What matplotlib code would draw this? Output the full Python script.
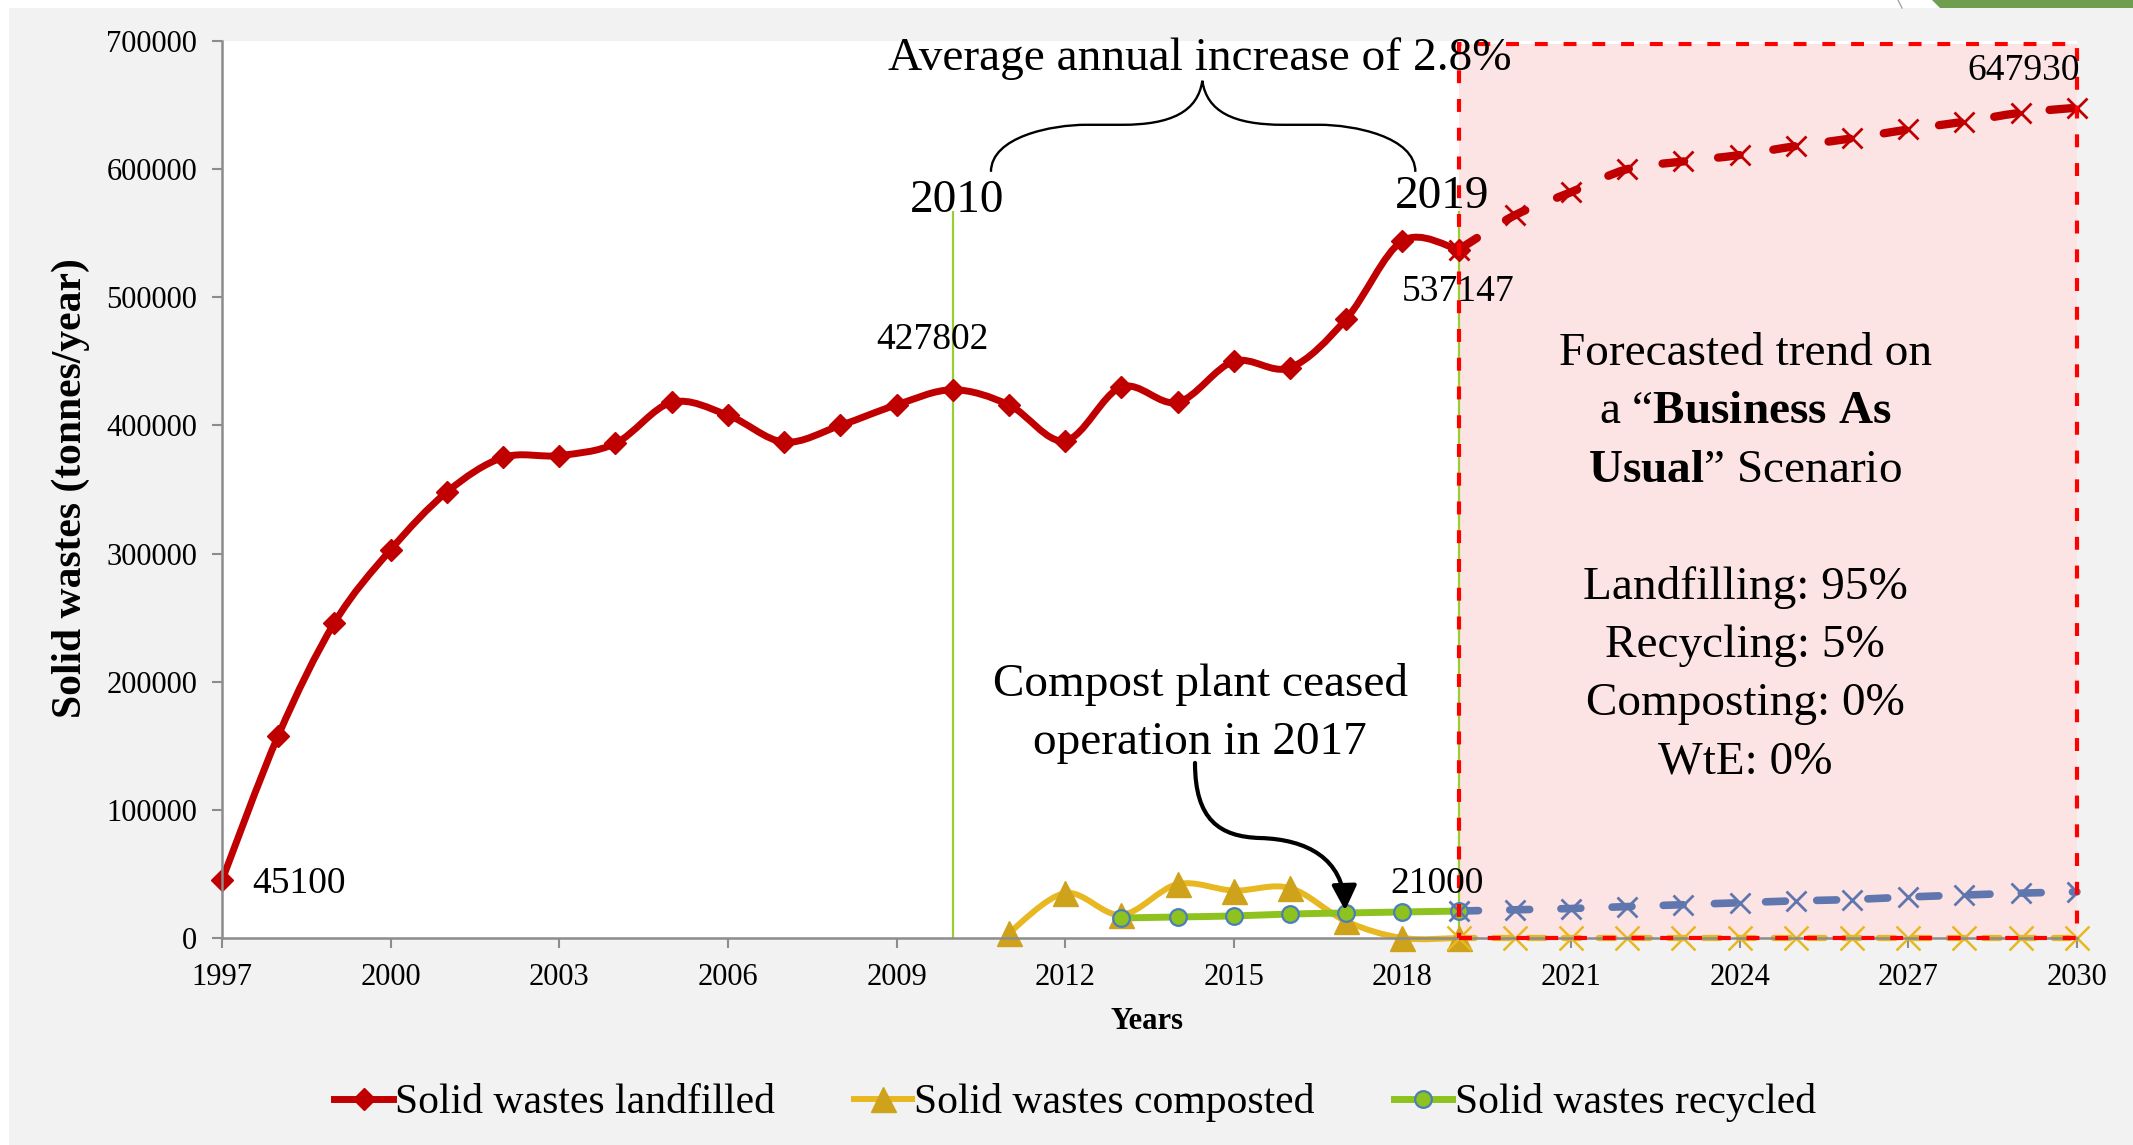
import numpy as np
import matplotlib.pyplot as plt
from matplotlib.path import Path
from matplotlib.patches import PathPatch, Rectangle, Polygon, FancyArrowPatch
from matplotlib.lines import Line2D
from matplotlib.ticker import FuncFormatter

plt.rcParams['font.family'] = ['Liberation Serif', 'DejaVu Serif']
plt.rcParams['mathtext.fontset'] = 'custom'
plt.rcParams['mathtext.rm'] = 'Liberation Serif'
plt.rcParams['mathtext.bf'] = 'Liberation Serif:bold'

# DATOS (tonnes/year)
years_hist = list(range(1997, 2020))
landfilled = [45100, 158000, 246000, 303000, 348000, 375000, 376500, 386000,
              418000, 408000, 387000, 400000, 416000, 427802, 416000, 388000,
              430000, 418000, 450000, 445000, 483000, 544000, 537147]

years_comp = list(range(2011, 2020))
composted = [4000, 35000, 18000, 42000, 37000, 39000, 13000, 0, 0]

years_rec = list(range(2013, 2020))
recycled = [15600, 16400, 17200, 18700, 19500, 20300, 21000]

# pronostico "Business As Usual"
years_fc = list(range(2019, 2031))
landfilled_fc = [537147, 564000, 582000, 600000, 606000, 611000, 618000,
                 624000, 631000, 637000, 644000, 647930]
recycled_fc = [21000, 22000, 23000, 24500, 26000, 27500, 29000, 30000,
               32000, 33500, 35000, 36000]
composted_fc = [0, 0, 0, 0, 0, 0, 0, 0, 0, 0, 0, 0]

marker_years = [2010, 2019]
marker_top = 567000
box_top = 698000

legend_labels = ['Solid wastes landfilled', 'Solid wastes composted',
                 'Solid wastes recycled']
scenario_lines = ['Forecasted trend on', 'a \u201c$\\mathbf{Business}$$\\;$$\\mathbf{As}$',
                  '$\\mathbf{Usual}$\u201d Scenario', '', 'Landfilling: 95%',
                  'Recycling: 5%', 'Composting: 0%', 'WtE: 0%']

# colores
red = '#C00000'
yellow = '#E8B822'
gold = '#CFA21B'
green = '#8DC21F'
blue_edge = '#4A7EBB'
blue_fc = '#5F76AE'
pink = '#FDE4E4'


def smooth_path(x, y):
    # curva suavizada tipo Excel (Catmull-Rom -> Bezier)
    pts = np.column_stack([x, y]).astype(float)
    n = len(pts)
    verts = [pts[0]]
    codes = [Path.MOVETO]
    for i in range(n - 1):
        p0 = pts[i - 1] if i > 0 else pts[i]
        p1 = pts[i]
        p2 = pts[i + 1]
        p3 = pts[i + 2] if i + 2 < n else pts[i + 1]
        verts += [p1 + (p2 - p0) / 6, p2 - (p3 - p1) / 6, p2]
        codes += [Path.CURVE4] * 3
    return Path(verts, codes)


def draw_series(ax, x, y, color, lw, ls='-', z=3):
    patch = PathPatch(smooth_path(x, y), fill=False, edgecolor=color, lw=lw,
                      linestyle=ls, capstyle='round', joinstyle='round', zorder=z,
                      clip_on=False)
    ax.add_patch(patch)


# FIGURA
fig = plt.figure(figsize=(21.33, 11.45), dpi=100)
fig.patch.set_facecolor('white')
fig.add_artist(Rectangle((9 / 2133, 0), 1, 1 - 8 / 1145, transform=fig.transFigure,
                         facecolor='#F2F2F2', edgecolor='none', zorder=-10))
fig.add_artist(Polygon([(1932 / 2133, 1), (1, 1), (1, 1 - 8 / 1145), (1940 / 2133, 1 - 8 / 1145)],
                       closed=True, transform=fig.transFigure,
                       facecolor='#6F9E50', edgecolor='none'))
fig.add_artist(Line2D([1898 / 2133, 1902 / 2133], [1, 1 - 8 / 1145],
                      transform=fig.transFigure, color='#A6A6A6', lw=1))

ax = fig.add_axes([0.1041, 0.1808, 0.8696, 0.7834])
ax.set_facecolor('white')
ax.set_xlim(1997, 2030)
ax.set_ylim(0, 700000)

# zona de pronostico
ax.add_patch(Rectangle((years_fc[0], 0), years_fc[-1] - years_fc[0], box_top,
                       facecolor=pink, edgecolor='none', zorder=1))
ax.add_patch(Rectangle((years_fc[0], 0), years_fc[-1] - years_fc[0], box_top,
                       fill=False, edgecolor='#FF0000', lw=3,
                       linestyle=(0, (3.1, 3.8)), zorder=6, clip_on=False))

ax.vlines(marker_years, 0, marker_top, color='#9ACD32', lw=1.6, zorder=2)

# historico
draw_series(ax, years_hist, landfilled, red, 5)
ax.plot(years_hist, landfilled, ls='none', marker='D', ms=11.5, color=red,
        zorder=4, clip_on=False)

draw_series(ax, years_comp, composted, yellow, 4.3)
ax.plot(years_comp, composted, ls='none', marker='^', ms=18, color=gold,
        zorder=4, clip_on=False)

draw_series(ax, years_rec, recycled, green, 5)
ax.plot(years_rec, recycled, ls='none', marker='o', ms=12, mfc=green,
        mec=blue_edge, mew=1.6, zorder=4)

# pronostico
draw_series(ax, years_fc, composted_fc, yellow, 4.5, ls=(0, (2.6, 3.0)))
ax.plot(years_fc, composted_fc, ls='none', marker='x', ms=17, mew=1.8,
        color=yellow, zorder=4, clip_on=False)
draw_series(ax, years_fc, recycled_fc, blue_fc, 5.5, ls=(0, (2.6, 4.1)))
ax.plot(years_fc, recycled_fc, ls='none', marker='x', ms=15, mew=2,
        color=blue_fc, zorder=4)
draw_series(ax, years_fc, landfilled_fc, red, 6, ls=(0, (2.6, 4.1)))
ax.plot(years_fc, landfilled_fc, ls='none', marker='x', ms=15, mew=2,
        color=red, zorder=4, clip_on=False)

# ejes
for s in ['top', 'right']:
    ax.spines[s].set_visible(False)
for s in ['left', 'bottom']:
    ax.spines[s].set_color('#8C8C8C')
    ax.spines[s].set_linewidth(1.8)
    ax.spines[s].set_zorder(5)
ax.set_xticks(np.arange(1997, 2031, 3))
ax.set_yticks(np.arange(0, 700001, 100000))
ax.yaxis.set_major_formatter(FuncFormatter(lambda v, p: f'{int(v)}'))
ax.tick_params(direction='out', length=7, width=1.5, color='#8C8C8C', labelsize=22)
ax.tick_params(axis='x', pad=11)
ax.tick_params(axis='y', pad=11)

fig.text(0.0332, 0.574, 'Solid wastes (tonnes/year)', rotation=90, fontsize=30,
         fontweight='bold', ha='center', va='center')
fig.text(1147 / 2133, 0.1078, 'Years', fontsize=22, fontweight='bold',
         ha='center', va='center')

# etiquetas
tk = dict(fontsize=27, ha='center', va='center', zorder=10)
ax.text(2009.63, 466800, '427802', **tk)
ax.text(1997.53, 42100, '45100', fontsize=27, ha='left', va='center', zorder=10)
ax.text(2019.0, 504300, '537147', **tk)
ax.text(2029.05, 676800, '647930', **tk)
ax.text(2018.61, 42100, '21000', **tk)

big = dict(fontsize=34, ha='center', va='center', zorder=10)
ax.text(2014.40, 686600, 'Average annual increase of 2.8%', clip_on=False, **big)
ax.text(2010.07, 575100, '2010', **big)
ax.text(2018.71, 578400, '2019', **big)
ax.text(2014.40, 198100, 'Compost plant ceased', **big)
ax.text(2014.40, 152400, 'operation in 2017', **big)

y0, step = 456100, 45600
for i, line in enumerate(scenario_lines):
    if line:
        ax.text(2024.10, y0 - i * step, line, **big)

# llave
def brace(xl, xr, xt, yb, ym, yt):
    v = [(xl, yb), (xl, yb + 0.75 * (ym - yb)), (xl + 0.45 * (xt - xl) - 0.6, ym),
         (xl + 0.45 * (xt - xl), ym),
         (xl + 0.62 * (xt - xl), ym),
         (xt - 0.55, ym), (xt - 0.08, ym + 0.3 * (yt - ym)), (xt, yt),
         (xt + 0.08, ym + 0.3 * (yt - ym)), (xt + 0.55, ym), (xr - 0.62 * (xr - xt), ym),
         (xr - 0.45 * (xr - xt), ym),
         (xr - 0.45 * (xr - xt) + 0.6, ym), (xr, yb + 0.75 * (ym - yb)), (xr, yb)]
    c = [Path.MOVETO, Path.CURVE4, Path.CURVE4, Path.CURVE4, Path.LINETO,
         Path.CURVE4, Path.CURVE4, Path.CURVE4, Path.CURVE4, Path.CURVE4, Path.CURVE4,
         Path.LINETO, Path.CURVE4, Path.CURVE4, Path.CURVE4]
    return Path(v, c)


ax.add_patch(PathPatch(brace(2010.68, 2018.23, 2014.44, 597900, 634600, 669000),
                       fill=False, edgecolor='black', lw=1.7, zorder=10, clip_on=False))

# flecha curva
arrow_path = Path([(2014.31, 136600), (2014.31, 92000), (2014.75, 79000), (2015.47, 78000),
                   (2016.3, 77000), (2016.95, 62000), (2016.98, 21500)],
                  [Path.MOVETO, Path.CURVE4, Path.CURVE4, Path.CURVE4,
                   Path.CURVE4, Path.CURVE4, Path.CURVE4])
ax.add_patch(FancyArrowPatch(path=arrow_path, arrowstyle='-|>,head_length=0.5,head_width=0.25',
                             mutation_scale=30, lw=3, color='black', zorder=10))

# leyenda
handles = [Line2D([], [], color=red, lw=5, marker='D', ms=11.5),
           Line2D([], [], color=yellow, lw=4.3, marker='^', ms=18, mfc=gold, mec=gold),
           Line2D([], [], color=green, lw=5, marker='o', ms=12, mfc=green, mec=blue_edge, mew=1.6)]
fig.legend(handles, legend_labels, loc='center', bbox_to_anchor=(0.504, 0.0367), ncol=3,
           frameon=False, fontsize=30, handlelength=1.4, handletextpad=0.05,
           columnspacing=1.9)

fig.savefig('out.png', dpi=100, facecolor=fig.get_facecolor())
